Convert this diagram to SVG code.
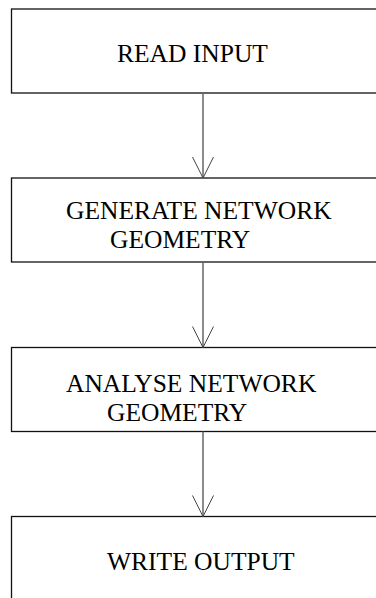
<svg xmlns="http://www.w3.org/2000/svg" width="376" height="598" viewBox="0 0 376 598">
<style>
.box{fill:#fff;stroke:#111;stroke-width:1.3}
.lbl{font-family:"Liberation Serif","Times New Roman",serif;font-size:25.5px;fill:#000}
.conn{stroke:#666;stroke-width:1.5;fill:none}
.head{stroke:#444;stroke-width:1;fill:none}
</style>
<rect width="376" height="598" fill="#fff"/>
<g id="n1"><rect class="box" x="11.5" y="9" width="400" height="84"/><text class="lbl" x="117" y="62">READ INPUT</text></g>
<g id="n2"><rect class="box" x="11.5" y="178" width="400" height="84"/><text class="lbl" x="66" y="219">GENERATE NETWORK</text><text class="lbl" x="110" y="248">GEOMETRY</text></g>
<g id="n3"><rect class="box" x="11.5" y="347.5" width="400" height="84"/><text class="lbl" x="66" y="392">ANALYSE NETWORK</text><text class="lbl" x="107" y="421">GEOMETRY</text></g>
<g id="n4"><rect class="box" x="11.5" y="516.5" width="400" height="90"/><text class="lbl" x="107" y="570">WRITE OUTPUT</text></g>
<g id="connectors">
<line class="conn" x1="203" y1="93" x2="203" y2="178"/>
<polyline class="head" points="192.5,157 203,178 213.5,157"/>
<line class="conn" x1="203" y1="262" x2="203" y2="347.5"/>
<polyline class="head" points="192.5,326.5 203,347.5 213.5,326.5"/>
<line class="conn" x1="203" y1="431.5" x2="203" y2="516.5"/>
<polyline class="head" points="192.5,495.5 203,516.5 213.5,495.5"/>
</g>
</svg>
